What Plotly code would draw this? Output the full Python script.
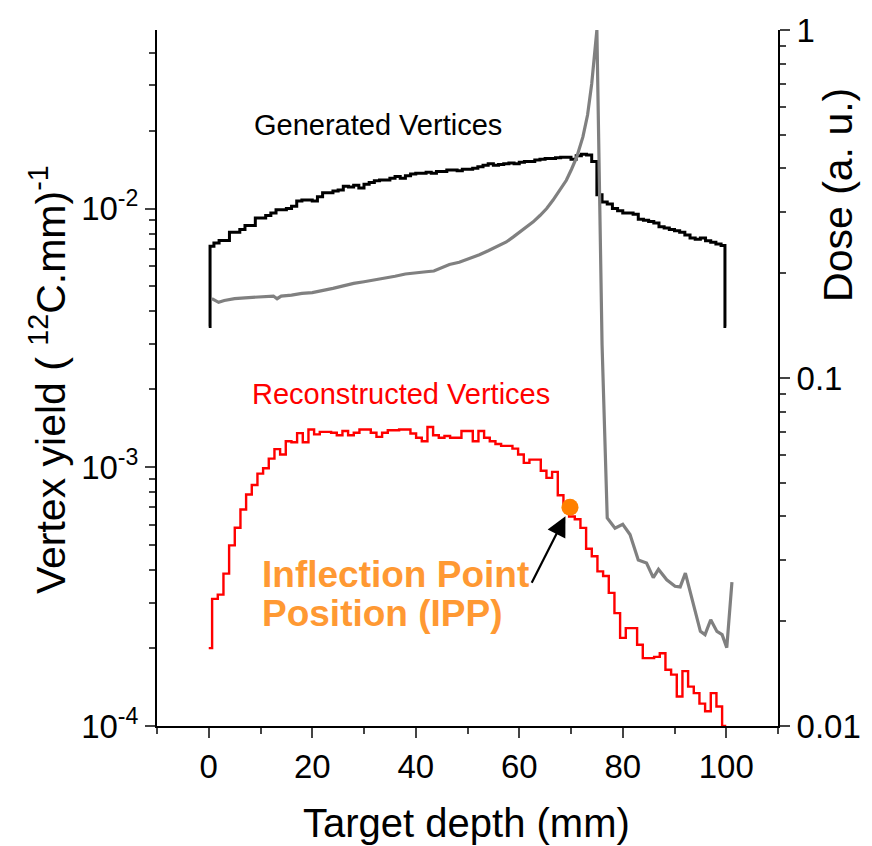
import numpy as np
import plotly.graph_objects as go

# ---------------- data ----------------
# Generated vertices (1 mm bins, centres 0.5..99.5), plus edge points at 0 and 100
gen_x = [0.0] + [i + 0.5 for i in range(100)] + [100.0]
gen_vals = [
    0.00715, 0.00735, 0.00753, 0.00753, 0.0081, 0.0081, 0.0083, 0.0086, 0.0086, 0.0092,
    0.0092, 0.0094, 0.0096, 0.0099, 0.0099, 0.0100, 0.0102, 0.0107, 0.0108, 0.0108,
    0.0107, 0.0111, 0.0115, 0.0115, 0.0117, 0.0118, 0.0122, 0.0121, 0.0123, 0.0120,
    0.0124, 0.0126, 0.0128, 0.0129, 0.0129, 0.0131, 0.0133, 0.0131, 0.0134, 0.0136,
    0.0137, 0.0137, 0.0138, 0.0137, 0.0139, 0.0139, 0.0141, 0.0141, 0.0140, 0.0142,
    0.0142, 0.0143, 0.0145, 0.0147, 0.0149, 0.0147, 0.0148, 0.0149, 0.0150, 0.0149,
    0.0151, 0.0152, 0.0152, 0.0154, 0.0155, 0.0156, 0.0156, 0.0157, 0.0158, 0.0158,
    0.0155, 0.0160, 0.0162, 0.0161, 0.0152, 0.0113, 0.0106, 0.0104, 0.0100, 0.0098,
    0.0096, 0.0096, 0.0095, 0.0091, 0.0090, 0.0089, 0.0088, 0.0085, 0.0084, 0.0083,
    0.0082, 0.0081, 0.0079, 0.0077, 0.0076, 0.0077, 0.0075, 0.0074, 0.0073, 0.0072,
]
gen_y = [0.0035] + gen_vals + [0.0035]

# Reconstructed vertices (bin left edges from 0.65 mm, width ~1.095 mm)
rec_first = 2.0e-4
rec_vals = [
    3.10e-4, 3.22e-4, 3.88e-4, 4.99e-4, 5.84e-4, 6.87e-4, 7.85e-4, 8.54e-4, 9.45e-4, 9.91e-4,
    1.08e-3, 1.175e-3, 1.12e-3, 1.26e-3, 1.25e-3, 1.355e-3, 1.25e-3, 1.40e-3, 1.34e-3, 1.37e-3,
    1.37e-3, 1.36e-3, 1.33e-3, 1.38e-3, 1.33e-3, 1.36e-3, 1.40e-3, 1.40e-3, 1.36e-3, 1.31e-3,
    1.36e-3, 1.39e-3, 1.39e-3, 1.40e-3, 1.40e-3, 1.35e-3, 1.30e-3, 1.26e-3, 1.43e-3, 1.33e-3,
    1.30e-3, 1.32e-3, 1.30e-3, 1.30e-3, 1.38e-3, 1.38e-3, 1.26e-3, 1.38e-3, 1.30e-3, 1.26e-3,
    1.23e-3, 1.21e-3, 1.21e-3, 1.18e-3, 1.12e-3, 1.04e-3, 1.07e-3, 1.07e-3, 9.7e-4, 9.1e-4,
    9.6e-4, 7.8e-4, 7.25e-4, 6.45e-4, 6.3e-4, 5.83e-4, 4.84e-4, 4.53e-4, 3.96e-4, 3.80e-4,
    3.27e-4, 2.73e-4, 2.19e-4, 2.39e-4, 2.39e-4, 2.06e-4, 1.83e-4, 1.83e-4, 1.85e-4, 1.91e-4,
    1.65e-4, 1.58e-4, 1.30e-4, 1.63e-4, 1.42e-4, 1.34e-4, 1.22e-4, 1.14e-4, 1.34e-4, 1.19e-4,
]
rec_last = 1.0e-4
rec_start, rec_width = 0.65, 1.095

# Dose profile (right axis)
dose_x = [0.6, 1.9, 3, 5, 7, 9, 11, 12.5, 13.2, 14, 16, 18, 20, 22, 24, 26, 28, 30, 32, 34,
          36, 38, 40, 42, 43.5, 45, 46.5, 48.4, 50.4, 52.3, 54, 56.2, 57.5, 58.8, 60, 61.4,
          62.7, 64, 65.3, 66.5, 67.8, 69.1, 70.1, 71.1, 72.3, 73.2, 74.0, 74.6, 75.0, 76.0,
          77.0, 78.5, 80.0, 81.4, 83.0, 84.6, 85.9, 86.9, 88.5, 90.1, 91.1, 92.1, 93.3, 95.0,
          95.9, 97.0, 98.2, 99.2, 100.1, 101.1]
dose_y = [0.169, 0.165, 0.167, 0.169, 0.170, 0.171, 0.172, 0.172, 0.169, 0.172, 0.173, 0.175,
          0.176, 0.178, 0.181, 0.184, 0.187, 0.189, 0.191, 0.194, 0.196, 0.199, 0.200, 0.202,
          0.203, 0.208, 0.212, 0.215, 0.220, 0.226, 0.232, 0.240, 0.246, 0.254, 0.262, 0.271,
          0.281, 0.293, 0.307, 0.324, 0.345, 0.370, 0.398, 0.431, 0.493, 0.57, 0.70, 0.85,
          1.0, 0.125, 0.0396, 0.037, 0.038, 0.0355, 0.030, 0.0294, 0.0267, 0.0282, 0.0263,
          0.0252, 0.0251, 0.0275, 0.0233, 0.0187, 0.0183, 0.0202, 0.0187, 0.0183, 0.0168, 0.0259]

ipp_x, ipp_y = 69.8, 7.0e-4

x_ticks = [0, 20, 40, 60, 80, 100]
x_minor = [-10, 10, 30, 50, 70, 90, 110]
y1_ticks = [1e-4, 1e-3, 1e-2]
y1_labels = ["10<sup>-4</sup>", "10<sup>-3</sup>", "10<sup>-2</sup>"]
y2_ticks = [0.01, 0.1, 1]
y2_labels = ["0.01", "0.1", "1"]

# ---------------- build ----------------
rec_edges = [rec_start + rec_width * i for i in range(len(rec_vals))]
rec_x = [0.0] + rec_edges + [rec_edges[-1] + rec_width, 100.0]
rec_y = [rec_first] + rec_vals + [rec_last, rec_last]

FONT = "Liberation Sans, Arial, sans-serif"

fig = go.Figure()
fig.add_trace(go.Scatter(x=gen_x, y=gen_y, mode="lines", line=dict(color="black", width=3, shape="hvh"),
                         yaxis="y", showlegend=False))
fig.add_trace(go.Scatter(x=rec_x, y=rec_y, mode="lines", line=dict(color="#FF0000", width=2.4, shape="hv"),
                         yaxis="y", showlegend=False))
fig.add_trace(go.Scatter(x=dose_x, y=dose_y, mode="lines", line=dict(color="#808080", width=3.2),
                         yaxis="y2", showlegend=False))
fig.add_trace(go.Scatter(x=[ipp_x], y=[ipp_y], mode="markers",
                         marker=dict(color="#FF8000", size=17), yaxis="y", showlegend=False))

minor1 = [m * 10.0 ** e for e in (-4, -3, -2) for m in range(2, 10)]
minor2 = [m * 10.0 ** e for e in (-2, -1) for m in range(2, 10)]

fig.update_layout(
    width=872, height=846,
    margin=dict(l=157, r=94, t=30, b=120),
    paper_bgcolor="white", plot_bgcolor="white",
    font=dict(family=FONT, color="black"),
    xaxis=dict(range=[-10, 110], tickvals=x_ticks, ticks="outside", ticklen=10, tickwidth=2,
               showline=True, linecolor="black", linewidth=2, showgrid=False, zeroline=False,
               tickfont=dict(size=33, family=FONT),
               minor=dict(tickvals=x_minor, ticks="outside", ticklen=6, tickwidth=2, showgrid=False)),
    yaxis=dict(type="log", range=[-4, -1.31], tickvals=y1_ticks, ticktext=y1_labels,
               ticks="outside", ticklen=10, tickwidth=2, showline=True, linecolor="black", linewidth=2,
               showgrid=False, zeroline=False, tickfont=dict(size=33, family=FONT),
               minor=dict(tickvals=minor1, ticks="outside", ticklen=6, tickwidth=2, showgrid=False)),
    yaxis2=dict(type="log", range=[-2, 0], overlaying="y", side="right", tickvals=y2_ticks,
                ticktext=y2_labels, ticks="outside", ticklen=10, tickwidth=2, showline=True,
                linecolor="black", linewidth=2, showgrid=False, zeroline=False,
                tickfont=dict(size=33, family=FONT),
                minor=dict(tickvals=minor2, ticks="outside", ticklen=6, tickwidth=2, showgrid=False)),
)

def lab(text, x, y, size, color="black", angle=0, xanchor="center"):
    return dict(text=text, x=x, y=y, xref="paper", yref="paper", showarrow=False,
                xanchor=xanchor, yanchor="middle", textangle=angle,
                font=dict(size=size, color=color, family=FONT))

annotations = [
    lab("Generated Vertices", 0.356, 0.8635, 29),
    lab("Reconstructed Vertices", 0.393, 0.477, 29, color="#FF0000"),
    lab("<b>Inflection Point</b>", 0.166, 0.218, 37, color="#FF9933", xanchor="left"),
    lab("<b>Position (IPP)</b>", 0.166, 0.161, 37, color="#FF9933", xanchor="left"),
    lab("Vertex yield ( <sup>12</sup>C.mm)<sup>-1</sup>", -0.1755, 0.497, 41, angle=-90),
    lab("Dose (a. u.)", 1.0966, 0.763, 41, angle=-90),
    lab("Target depth (mm)", 0.499, -0.139, 40),
    dict(x=ipp_x, y=np.log10(ipp_y), xref="x", yref="y", ax=-39, ay=77, axref="pixel", ayref="pixel",
         text="", showarrow=True, arrowhead=2, arrowsize=1.8, arrowwidth=2.2, arrowcolor="black",
         standoff=10),
]
fig.update_layout(annotations=annotations)

fig.write_html("out.html")
